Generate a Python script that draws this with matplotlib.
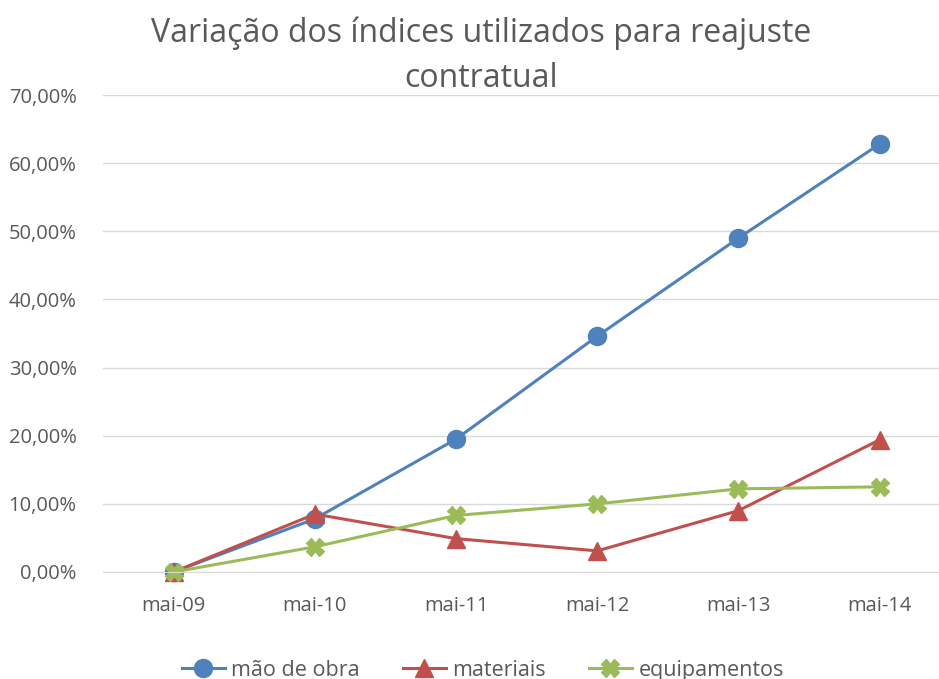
import matplotlib.pyplot as plt
from matplotlib.ticker import FuncFormatter

meses = ["mai-09", "mai-10", "mai-11", "mai-12", "mai-13", "mai-14"]
mao_de_obra = [0.0, 7.8, 19.5, 34.6, 49.0, 62.8]
materiais = [0.0, 8.5, 4.9, 3.1, 9.0, 19.4]
equipamentos = [0.0, 3.7, 8.3, 10.0, 12.2, 12.5]

plt.rcParams['font.family'] = ['Open Sans', 'DejaVu Sans']
texto = '#595959'

fig = plt.figure(figsize=(9.39, 6.79), dpi=100)
ax = fig.add_axes([103 / 939, 1 - 572 / 679, 836 / 939, (572 - 95) / 679])

x = list(range(len(meses)))
ax.plot(x, mao_de_obra, color='#4F81BD', linewidth=2.2, marker='o', markersize=13, label='mão de obra', clip_on=False)
ax.plot(x, materiais, color='#C0504D', linewidth=2.2, marker='^', markersize=13.5, label='materiais', clip_on=False)
ax.plot(x, equipamentos, color='#9BBB59', linewidth=2.2, marker='X', markersize=12.5, label='equipamentos', clip_on=False)

ax.set_xlim(-0.5, -0.5 + 836 / 141.2)
ax.set_ylim(0, 70)
ax.set_yticks(range(0, 71, 10))
ax.yaxis.set_major_formatter(FuncFormatter(lambda v, p: f"{v:.2f}%".replace('.', ',')))
ax.set_xticks(x)
ax.set_xticklabels(meses)
ax.grid(axis='y', color='#D9D9D9', linewidth=1)
ax.set_axisbelow(True)
for s in ['top', 'right', 'left']:
    ax.spines[s].set_visible(False)
ax.spines['bottom'].set_color('#D9D9D9')
ax.tick_params(axis='both', length=0, labelsize=14.5, colors=texto)
ax.tick_params(axis='y', pad=19)
ax.tick_params(axis='x', pad=17)

fig.text(0.512, 0.918, "Variação dos índices utilizados para reajuste\ncontratual",
         ha='center', va='center', fontsize=23, color=texto, linespacing=1.45)

fig.legend(loc='center', bbox_to_anchor=(0.514, 0.013), ncol=3, frameon=False,
           fontsize=15.5, labelcolor=texto, handlelength=2.0, columnspacing=2.0, handletextpad=0.3)

fig.savefig('out.png', dpi=100)
